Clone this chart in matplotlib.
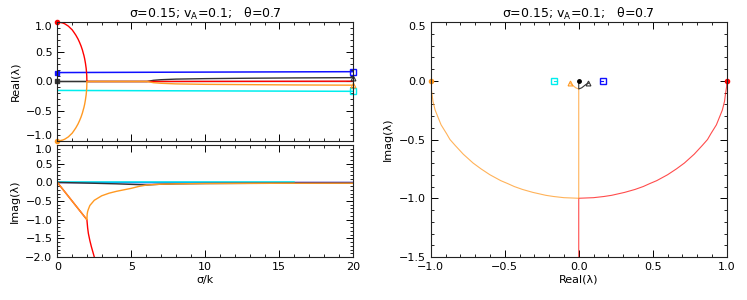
import matplotlib
matplotlib.use('Agg')
import matplotlib.pyplot as plt
from matplotlib.ticker import MultipleLocator

plt.rcParams['font.family'] = ['DejaVu Sans']
plt.rcParams['font.size'] = 8
plt.rcParams['mathtext.default'] = 'regular'

# eigenvalue branches lambda(sigma/k): real and imaginary parts
red_x = [0, 0.1, 0.25, 0.35, 0.5, 0.6, 0.75, 0.9, 1.0, 1.1, 1.25, 1.4, 1.5, 1.6, 1.7, 1.75,
         1.8, 1.85, 1.9, 1.95, 1.97, 1.99, 2.0, 2.05, 2.1, 2.2, 2.3, 2.4, 2.5, 3.0, 6.0, 20]
red_re = [1.0, 0.999, 0.99, 0.985, 0.97, 0.954, 0.93, 0.893, 0.87, 0.835, 0.78, 0.714, 0.66,
          0.6, 0.527, 0.48, 0.436, 0.38, 0.31, 0.222, 0.17, 0.1, 0.0,
          0, 0, 0, 0, 0, 0, 0, 0, 0.005]
red_im = [0, -0.05, -0.125, -0.175, -0.25, -0.3, -0.375, -0.45, -0.5, -0.55, -0.625, -0.7,
          -0.75, -0.8, -0.85, -0.875, -0.9, -0.925, -0.95, -0.975, -0.985, -0.995, -1.0,
          -1.22, -1.37, -1.56, -1.72, -1.86, -2.0, -2.62, -5.8, -20]

orange_x = [0, 0.1, 0.25, 0.35, 0.5, 0.6, 0.75, 0.9, 1.0, 1.1, 1.25, 1.4, 1.5, 1.6, 1.7, 1.75,
            1.8, 1.85, 1.9, 1.95, 1.97, 1.99, 2.0, 2.02, 2.05, 2.1, 2.2,
            2.5, 3.0, 3.5, 4.0, 4.5, 5.0, 5.5, 6.06, 6.5, 7, 8, 10, 13, 16, 20]
orange_re = [-1.0, -0.999, -0.99, -0.985, -0.97, -0.954, -0.93, -0.893, -0.87, -0.835, -0.78,
             -0.714, -0.66, -0.6, -0.527, -0.48, -0.436, -0.38, -0.31, -0.222, -0.17, -0.1, 0,
             0, 0, 0, 0, 0, 0, 0, 0, 0, 0, 0, 0,
             -0.02, -0.03, -0.04, -0.048, -0.053, -0.058, -0.062]
orange_im = [0, -0.05, -0.125, -0.175, -0.25, -0.3, -0.375, -0.45, -0.5, -0.55, -0.625, -0.7,
             -0.75, -0.8, -0.85, -0.875, -0.9, -0.925, -0.95, -0.975, -0.985, -0.995, -1.0,
             -0.85, -0.78, -0.72, -0.62, -0.48, -0.36, -0.29, -0.24, -0.2, -0.16, -0.11, -0.07,
             -0.06, -0.05, -0.04, -0.032, -0.027, -0.024, -0.022]

black_x = [0, 2, 4, 6.06, 6.5, 7, 8, 10, 13, 16, 20]
black_re = [0, 0, 0, 0, 0.02, 0.03, 0.04, 0.048, 0.055, 0.06, 0.065]
black_im = [0, -0.02, -0.04, -0.07, -0.06, -0.05, -0.04, -0.032, -0.027, -0.024, -0.022]

blue_x = [0, 6, 20]
blue_re = [0.15, 0.155, 0.165]
blue_im = [0, 0, 0]

cyan_x = [0, 6, 20]
cyan_re = [-0.15, -0.155, -0.165]
cyan_im = [0, 0, 0]

title = u'σ=0.15; v$_A$=0.1;   θ=0.7'

RED = '#ff0000'
ORANGE = '#ff9922'
BLUE = '#1010ff'
CYAN = '#00eeee'
BLACK = '#333333'


def idl_axes(ax, xticks, xmin, yticks, ymin):
    ax.set_xticks(xticks)
    ax.xaxis.set_minor_locator(MultipleLocator(xmin))
    ax.set_yticks(yticks)
    ax.yaxis.set_minor_locator(MultipleLocator(ymin))
    ax.tick_params(which='both', direction='in', top=True, right=True, labelsize=8)
    ax.tick_params(which='major', length=5, width=0.7)
    ax.tick_params(which='minor', length=2.5, width=0.6)
    for s in ax.spines.values():
        s.set_linewidth(0.8)
        s.set_color('#222222')


fig = plt.figure(figsize=(7.47, 3.0), dpi=100)
ax1 = fig.add_axes([0.0767, 0.53, 0.3963, 0.3967])
ax2 = fig.add_axes([0.0767, 0.1433, 0.3963, 0.3733])
ax3 = fig.add_axes([0.5766, 0.1433, 0.3963, 0.7833])

# top left: real part
ax1.axhline(0, color='#888888', lw=1.0, zorder=1)
ax1.plot(blue_x, blue_re, color=BLUE, lw=1.1)
ax1.plot(cyan_x, cyan_re, color=CYAN, lw=1.1)
ax1.plot(black_x, black_re, color=BLACK, lw=1.0)
ax1.plot(red_x, red_re, color=RED, lw=1.0)
ax1.plot(orange_x, orange_re, color=ORANGE, lw=1.0)
ax1.plot(red_x[0], red_re[0], 'o', color=RED, ms=3, clip_on=False)
ax1.plot(orange_x[0], orange_re[0], 'o', color=ORANGE, ms=3, clip_on=False)
ax1.plot(black_x[0], black_re[0], 's', color=BLACK, ms=2.5, clip_on=False)
ax1.plot(blue_x[0], blue_re[0], 's', color=BLUE, ms=2.5, clip_on=False)
ax1.plot(blue_x[-1], blue_re[-1], 's', mec=BLUE, mfc='none', ms=4.5, mew=1, clip_on=False)
ax1.plot(cyan_x[-1], cyan_re[-1], 's', mec=CYAN, mfc='none', ms=4.5, mew=1, clip_on=False)
ax1.plot(black_x[-1], black_re[-1], '^', mec=BLACK, mfc='none', ms=3.5, mew=0.8, clip_on=False)
ax1.plot(orange_x[-1], orange_re[-1], '^', mec=ORANGE, mfc='none', ms=3.5, mew=0.8, clip_on=False)
idl_axes(ax1, [0, 5, 10, 15, 20], 1, [-1.0, -0.5, 0.0, 0.5, 1.0], 0.1)
ax1.set_xlim(0, 20)
ax1.set_ylim(-1, 1)
ax1.tick_params(labelbottom=False)
ax1.set_ylabel(u'Real(λ)')
ax1.set_title(title, fontsize=9, pad=3)

# bottom left: imaginary part
ax2.axhline(0, color='#888888', lw=1.0, zorder=1)
ax2.plot(blue_x, blue_im, color=BLUE, lw=1.0)
ax2.plot(cyan_x[:2] + [16], [0, 0, 0], color=CYAN, lw=1.1)
ax2.plot(black_x, black_im, color=BLACK, lw=1.0)
ax2.plot(red_x, red_im, color=RED, lw=1.0)
ax2.plot(orange_x, orange_im, color=ORANGE, lw=1.0)
idl_axes(ax2, [0, 5, 10, 15, 20], 1, [-2.0, -1.5, -1.0, -0.5, 0.0, 0.5, 1.0], 0.1)
ax2.set_xlim(0, 20)
ax2.set_ylim(-2, 1)
ax2.set_ylabel(u'Imag(λ)')
ax2.set_xlabel(u'σ/k', labelpad=2)

# right: complex plane
ax3.plot(red_re, red_im, color=RED, lw=0.8, alpha=0.7)
ax3.plot(orange_re, orange_im, color=ORANGE, lw=0.8, alpha=0.75)
ax3.plot(black_re, black_im, color=BLACK, lw=0.8)
ax3.plot(blue_re, blue_im, color=BLUE, lw=0.8)
ax3.plot(cyan_re, cyan_im, color=CYAN, lw=0.8)
ax3.plot(red_re[0], red_im[0], 'o', color=RED, ms=3, clip_on=False)
ax3.plot(orange_re[0], orange_im[0], 'o', color=ORANGE, ms=3, clip_on=False)
ax3.plot(black_re[0], black_im[0], 'o', color='black', ms=2.5)
ax3.plot(blue_re[-1], blue_im[-1], 's', mec=BLUE, mfc='none', ms=4, mew=1)
ax3.plot(cyan_re[-1], cyan_im[-1], 's', mec=CYAN, mfc='none', ms=4, mew=1)
ax3.plot(black_re[-1], black_im[-1], '^', mec=BLACK, mfc='none', ms=3.5, mew=0.8)
ax3.plot(orange_re[-1], orange_im[-1], '^', mec=ORANGE, mfc='none', ms=3.5, mew=0.8)
idl_axes(ax3, [-1.0, -0.5, 0.0, 0.5, 1.0], 0.1, [-1.5, -1.0, -0.5, 0.0, 0.5], 0.1)
ax3.set_xlim(-1, 1)
ax3.set_ylim(-1.5, 0.5)
ax3.set_xlabel(u'Real(λ)', labelpad=2)
ax3.set_ylabel(u'Imag(λ)')
ax3.set_title(title, fontsize=9, pad=3)

# nudge the end labels inward like the original, so the two left panels don't collide
fig.canvas.draw()
lab1 = ax1.get_yticklabels()
lab1[0].set_va('bottom')
lab1[-1].set_va('top')
ax2.get_yticklabels()[-1].set_va('top')
ax3.get_yticklabels()[-1].set_va('top')

fig.savefig('out.png', dpi=100)
